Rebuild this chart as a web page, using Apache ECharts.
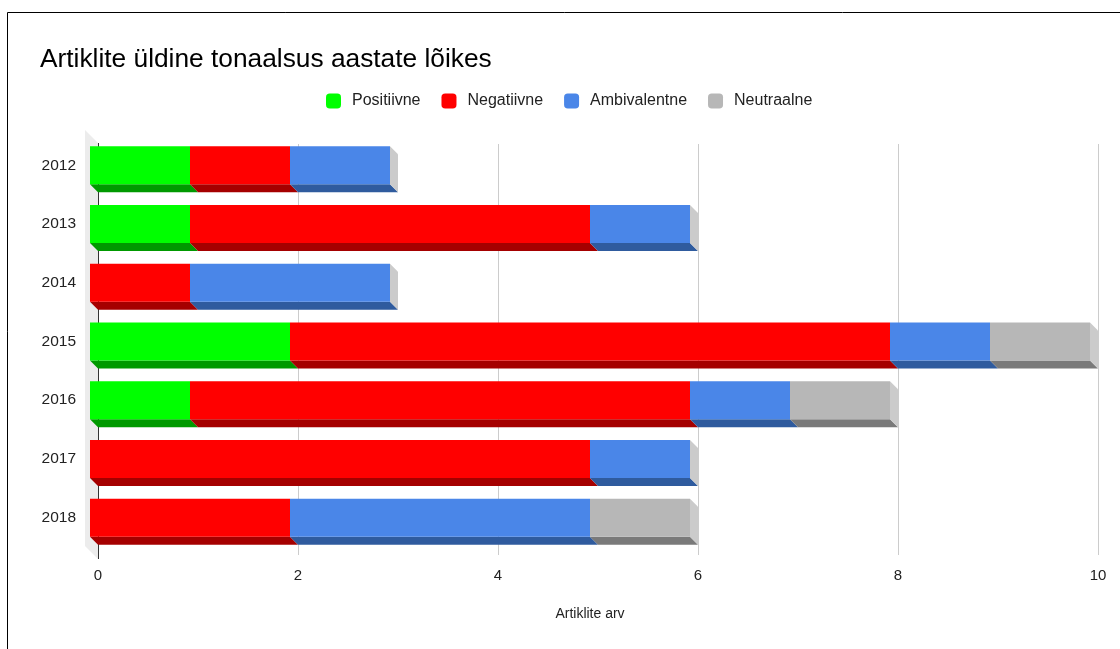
<!DOCTYPE html>
<html>
<head>
<meta charset="utf-8">
<script src="https://cdn.jsdelivr.net/npm/echarts@6/dist/echarts.min.js"></script>
<style>
html,body{margin:0;padding:0;background:#fff;}
#chart{width:1120px;height:649px;}
</style>
</head>
<body>
<div id="chart"></div>
<script>
const categories = ['2012', '2013', '2014', '2015', '2016', '2017', '2018'];
const positiivne = [1, 1, 0, 2, 1, 0, 0];
const negatiivne = [1, 4, 1, 6, 5, 5, 2];
const ambivalentne = [1, 1, 2, 1, 1, 1, 3];
const neutraalne = [0, 0, 0, 1, 1, 0, 1];
const xTicks = [0, 2, 4, 6, 8, 10];

const seriesDefs = [
  { name: 'Positiivne', values: positiivne, color: '#00ff00', dark: '#009900' },
  { name: 'Negatiivne', values: negatiivne, color: '#ff0000', dark: '#a50000' },
  { name: 'Ambivalentne', values: ambivalentne, color: '#4a86e8', dark: '#2f5b9e' },
  { name: 'Neutraalne', values: neutraalne, color: '#b7b7b7', dark: '#7a7a7a' }
];
const SIDE = '#cbcbcb';
const DEPTH = 8;
const FONT = 'Liberation Sans, Arial, sans-serif';

// build stacked start/end per series
const totals = categories.map((c, i) => seriesDefs.reduce((s, d) => s + d.values[i], 0));
const cum = categories.map(() => 0);
const built = seriesDefs.map(def => {
  const data = def.values.map((v, i) => {
    const start = cum[i];
    cum[i] += v;
    const isLast = (v > 0 && cum[i] === totals[i]) ? 1 : 0;
    return [start, cum[i], i, isLast];
  });
  return { def, data };
});

function makeRender(color, dark) {
  return function (params, api) {
    const start = api.value(0), end = api.value(1), cat = api.value(2), last = api.value(3);
    if (end <= start) return null;
    const p0 = api.coord([start, cat]);
    const p1 = api.coord([end, cat]);
    const band = api.size([0, 1])[1];
    const h = band * 0.647;
    const d = DEPTH;
    const x0 = p0[0], x1 = p1[0];
    const y0 = p0[1] - h / 2, y1 = p0[1] + h / 2;
    const children = [
      { type: 'polygon', shape: { points: [[x0 - d, y1 - d], [x1 - d, y1 - d], [x1, y1], [x0, y1]] }, style: { fill: dark } },
      { type: 'rect', shape: { x: x0 - d, y: y0 - d, width: x1 - x0, height: h }, style: { fill: color } }
    ];
    if (last) {
      children.push({ type: 'polygon', shape: { points: [[x1 - d, y0 - d], [x1, y0], [x1, y1], [x1 - d, y1 - d]] }, style: { fill: SIDE } });
    }
    return { type: 'group', children };
  };
}

const series = [{
  type: 'custom',
  name: '__wall',
  silent: true,
  z: 0,
  data: [[0, 0]],
  encode: { x: 0, y: 1 },
  renderItem: function (params, api) {
    const cs = params.coordSys;
    const w = 13, ext = 4;
    const top = cs.y - 1, bot = cs.y + cs.height + ext;
    return {
      type: 'group',
      children: [
        { type: 'polygon', shape: { points: [[cs.x - w, top - w], [cs.x, top], [cs.x, bot], [cs.x - w, bot - w]] }, style: { fill: '#ececec' } },
        { type: 'line', shape: { x1: cs.x + 0.5, y1: top, x2: cs.x + 0.5, y2: bot }, style: { stroke: '#333', lineWidth: 1 } }
      ]
    };
  }
}].concat(built.map(b => ({
  type: 'custom',
  name: b.def.name,
  itemStyle: { color: b.def.color },
  encode: { x: [0, 1], y: 2 },
  data: b.data,
  renderItem: makeRender(b.def.color, b.def.dark)
})));

const chart = echarts.init(document.getElementById('chart'));
chart.setOption({
  animation: false,
  backgroundColor: '#fff',
  title: {
    text: 'Artiklite üldine tonaalsus aastate lõikes',
    left: 35, top: 42,
    textStyle: { fontFamily: FONT, fontSize: 26.3, fontWeight: 'normal', color: '#000' }
  },
  legend: {
    data: seriesDefs.map(d => d.name),
    left: 321, top: 88,
    icon: 'roundRect',
    itemWidth: 15, itemHeight: 15,
    itemGap: 21,
    textStyle: { fontFamily: FONT, fontSize: 16, color: '#222', padding: [0, 0, 0, 6] }
  },
  grid: { left: 98, right: 22, top: 144, bottom: 94, containLabel: false },
  xAxis: {
    type: 'value', min: 0, max: 10, interval: 2,
    axisLine: { show: false }, axisTick: { show: false },
    axisLabel: { margin: 13, fontFamily: FONT, fontSize: 15, color: '#222',
      formatter: v => xTicks.indexOf(v) >= 0 ? String(v) : '' },
    splitLine: { lineStyle: { color: '#cccccc', width: 1 } },
    name: 'Artiklite arv', nameLocation: 'middle', nameGap: 52,
    nameTextStyle: { fontFamily: FONT, fontSize: 14, color: '#222', padding: [0, 16, 0, 0] }
  },
  yAxis: {
    type: 'category', data: categories, inverse: true,
    axisLine: { show: false },
    axisTick: { show: false },
    splitLine: { show: false },
    axisLabel: { margin: 22, fontFamily: FONT, fontSize: 15.5, color: '#222', verticalAlign: 'bottom', lineHeight: 16 }
  },
  graphic: [{
    type: 'polyline', silent: true,
    shape: { points: [[7.5, 700], [7.5, 12.5], [1200, 12.5]] },
    style: { stroke: '#000', lineWidth: 1, fill: null }
  }],
  series
});
</script>
</body>
</html>
